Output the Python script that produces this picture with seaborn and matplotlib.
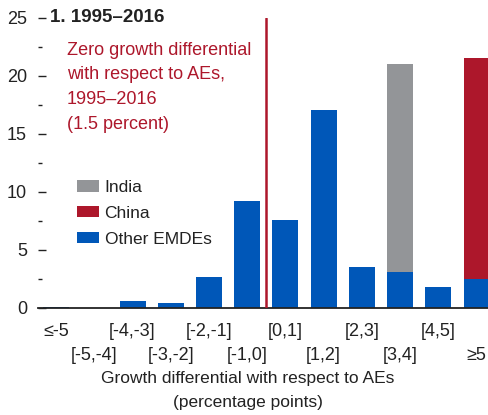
import matplotlib
matplotlib.use("Agg")
import matplotlib.pyplot as plt
from matplotlib.ticker import MultipleLocator
import seaborn as sns
import pandas as pd

categories = ["≤-5", "[-5,-4]", "[-4,-3]", "[-3,-2]", "[-2,-1]", "[-1,0]",
              "[0,1]", "[1,2]", "[2,3]", "[3,4]", "[4,5]", "≥5"]
other_emdes = [0.1, 0.0, 0.6, 0.4, 2.7, 9.2, 7.6, 17.1, 3.5, 3.1, 1.8, 2.5]
india = [0, 0, 0, 0, 0, 0, 0, 0, 0, 17.9, 0, 0]
china = [0, 0, 0, 0, 0, 0, 0, 0, 0, 0, 0, 19.0]
y_ticks = [0, 5, 10, 15, 20, 25]

BLUE = "#0057b8"
GRAY = "#939598"
RED = "#ad172b"
DARK = "#222222"

sns.set_theme(style="white")
plt.rcParams["font.family"] = ["Liberation Sans", "DejaVu Sans"]

df = pd.DataFrame({"cat": categories, "other": other_emdes,
                   "india": india, "china": china})
df["india_top"] = df["other"] + df["india"]
df["china_top"] = df["other"] + df["china"]

fig = plt.figure(figsize=(4.88, 4.15), dpi=100)
ax = fig.add_axes([0.078, 0.258, 0.93, 0.699])

common = dict(width=0.68, saturation=1, ax=ax, linewidth=0, edgecolor="none")
sns.barplot(data=df, x="cat", y="india_top", color=GRAY, label="India", **common)
sns.barplot(data=df, x="cat", y="china_top", color=RED, label="China", **common)
sns.barplot(data=df, x="cat", y="other", color=BLUE, label="Other EMDEs", **common)

ax.set_xlim(-0.47, 11.4)
ax.set_ylim(0, 25)
ax.set_yticks(y_ticks)
ax.yaxis.set_minor_locator(MultipleLocator(2.5))
ax.tick_params(axis="y", which="major", left=True, direction="in", length=6,
               width=1, color=DARK, labelsize=13, pad=8, labelcolor=DARK)
ax.tick_params(axis="y", which="minor", left=True, direction="in", length=3,
               width=1, color=DARK)

idx = list(range(len(categories)))
ax.set_xticks(idx[0::2])
ax.set_xticklabels(categories[0::2])
ax.set_xticks(idx[1::2], minor=True)
ax.set_xticklabels(categories[1::2], minor=True)
ax.tick_params(axis="x", which="major", bottom=True, length=0, labelsize=13,
               pad=11, labelcolor=DARK)
ax.tick_params(axis="x", which="minor", bottom=True, length=0, labelsize=13,
               pad=28, labelcolor=DARK)
ax.set_xlabel("")
ax.set_ylabel("")

for s in ["top", "right", "left"]:
    ax.spines[s].set_visible(False)
ax.spines["bottom"].set_color(DARK)
ax.spines["bottom"].set_linewidth(1.3)

ax.axvline(5.5, color=RED, linewidth=1.8, zorder=5)

ax.text(-0.16, 25, "1. 1995–2016", fontsize=13.5, fontweight="bold",
        color=DARK, va="center", ha="left")
ax.text(0.29, 22.95, "Zero growth differential\nwith respect to AEs,\n1995–2016\n(1.5 percent)",
        fontsize=13, color=RED, va="top", ha="left", linespacing=1.6)

leg = ax.legend(loc="upper left", bbox_to_anchor=(0.07, 0.465), frameon=False,
                fontsize=12.5, handlelength=1.3, handleheight=0.65,
                handletextpad=0.3, labelspacing=0.62, borderaxespad=0)
for t in leg.get_texts():
    t.set_color(DARK)

fig.text(248 / 488, 1 - 390 / 415,
         "Growth differential with respect to AEs\n(percentage points)",
         ha="center", va="center", fontsize=12.5, color=DARK, linespacing=1.75)

fig.savefig("out.png", dpi=100)
